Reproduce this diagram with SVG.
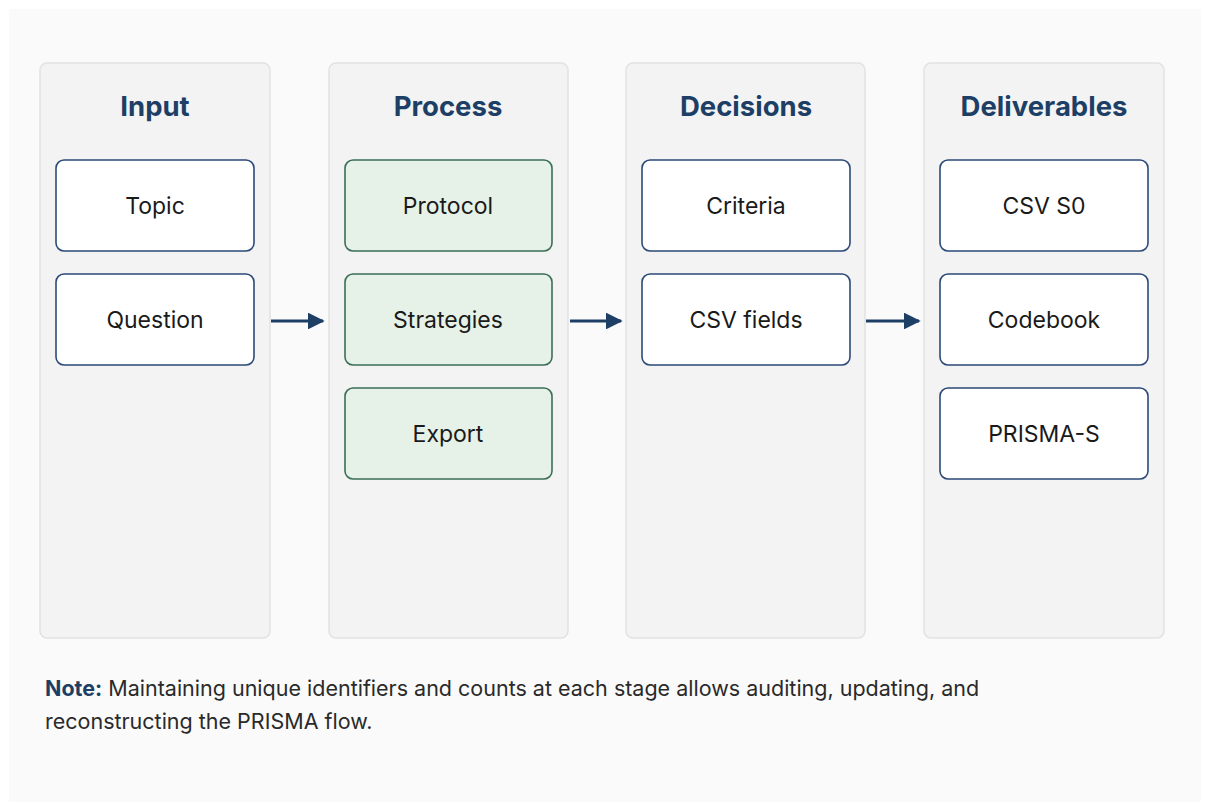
<svg xmlns="http://www.w3.org/2000/svg" width="1209" height="811" viewBox="0 0 1209 811">
<defs>
<marker id="ah" viewBox="0 0 10 10" refX="9" refY="5" markerWidth="5.6" markerHeight="5.6" orient="auto" markerUnits="strokeWidth">
<path d="M0,0 L10,5 L0,10 z" fill="#1d3f66"/>
</marker>
<style>
.col{fill:#f3f3f3;stroke:#e2e2e2;stroke-width:1.5}
.hd{font-family:Inter,"Noto Sans",sans-serif;font-weight:700;font-size:27.5px;fill:#1d3f66;text-anchor:middle}
.box{fill:#ffffff;stroke:#2c4a78;stroke-width:1.6}
.gbox{fill:#e6f2e8;stroke:#3b6e58;stroke-width:1.6}
.lb{font-family:Inter,"Noto Sans",sans-serif;font-size:23px;fill:#1a1a1a;text-anchor:middle}
.con{stroke:#1d3f66;stroke-width:3;fill:none;marker-end:url(#ah)}
.note{font-family:Inter,"Noto Sans",sans-serif;font-size:21.5px;fill:#2a2a2a}
</style>
</defs>
<rect width="1209" height="811" fill="#ffffff"/>
<rect x="9" y="9" width="1192" height="793" fill="#fafafa"/>

<g id="col-input">
<rect class="col" x="40" y="63" width="230" height="575" rx="7"/>
<text class="hd" x="155" y="116">Input</text>
</g>
<g id="col-process">
<rect class="col" x="329" y="63" width="239" height="575" rx="7"/>
<text class="hd" x="448" y="116">Process</text>
</g>
<g id="col-decisions">
<rect class="col" x="626" y="63" width="239" height="575" rx="7"/>
<text class="hd" x="746" y="116">Decisions</text>
</g>
<g id="col-deliverables">
<rect class="col" x="924" y="63" width="240" height="575" rx="7"/>
<text class="hd" x="1044" y="116">Deliverables</text>
</g>

<g id="topic"><rect class="box" x="56" y="160" width="198" height="91" rx="8"/><text class="lb" x="155" y="214">Topic</text></g>
<g id="question"><rect class="box" x="56" y="274" width="198" height="91" rx="8"/><text class="lb" x="155" y="328">Question</text></g>

<g id="protocol"><rect class="gbox" x="345" y="160" width="207" height="91" rx="8"/><text class="lb" x="448" y="214">Protocol</text></g>
<g id="strategies"><rect class="gbox" x="345" y="274" width="207" height="91" rx="8"/><text class="lb" x="448" y="328">Strategies</text></g>
<g id="export"><rect class="gbox" x="345" y="388" width="207" height="91" rx="8"/><text class="lb" x="448" y="442">Export</text></g>

<g id="criteria"><rect class="box" x="642" y="160" width="208" height="91" rx="8"/><text class="lb" x="746" y="214">Criteria</text></g>
<g id="csvfields"><rect class="box" x="642" y="274" width="208" height="91" rx="8"/><text class="lb" x="746" y="328">CSV fields</text></g>

<g id="csvs0"><rect class="box" x="940" y="160" width="208" height="91" rx="8"/><text class="lb" x="1044" y="214">CSV S0</text></g>
<g id="codebook"><rect class="box" x="940" y="274" width="208" height="91" rx="8"/><text class="lb" x="1044" y="328">Codebook</text></g>
<g id="prismas"><rect class="box" x="940" y="388" width="208" height="91" rx="8"/><text class="lb" x="1044" y="442">PRISMA-S</text></g>

<g id="connectors">
<line class="con" x1="271" y1="321" x2="323" y2="321"/>
<line class="con" x1="570" y1="321" x2="621" y2="321"/>
<line class="con" x1="866" y1="321" x2="919" y2="321"/>
</g>

<g id="note">
<text class="note" x="45" y="696"><tspan font-weight="700" fill="#1d3f66">Note:</tspan> Maintaining unique identifiers and counts at each stage allows auditing, updating, and</text>
<text class="note" x="45" y="729">reconstructing the PRISMA flow.</text>
</g>
</svg>
